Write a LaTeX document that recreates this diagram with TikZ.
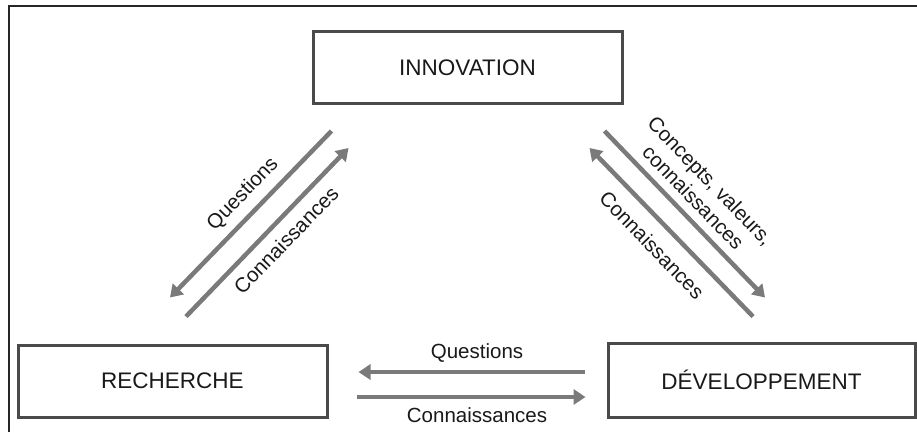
\documentclass[tikz,border=0pt]{standalone}
\usepackage{fontspec}
\setmainfont{Liberation Sans}
\usepackage{xcolor}
\usetikzlibrary{arrows.meta}
\definecolor{grisfleche}{HTML}{7A7A7A}
\definecolor{griscadre}{HTML}{4A4A4A}

\begin{document}
\begin{tikzpicture}[x=1pt, y=-1pt,
    boite/.style={draw=griscadre, line width=3pt, minimum width=309pt, minimum height=72pt, inner sep=0pt, text=black!90, font=\fontsize{22.5}{26}\selectfont},
    fleche/.style={draw=grisfleche, line width=4.5pt, -{Triangle[length=12pt, width=15pt]}},
    etiq/.style={inner sep=0pt, text=black!90, font=\fontsize{20.5}{24}\selectfont}]
    \useasboundingbox (0,0) rectangle (917,432);
    \draw[line width=2pt, black!85] (8.5,432) -- (8.5,6) -- (917,6);

    \node[boite] (inno) at (467.5, 67.5) {INNOVATION};
    \node[boite] (rech) at (172.5, 381) {RECHERCHE};
    \node[boite, minimum width=307pt, minimum height=74pt] (dev) at (761.5, 380) {DÉVELOPPEMENT};

    \draw[fleche] ([shift={(20,26)}]inno.south west) -- ([shift={(-2.5,-46)}]rech.north);
    \draw[fleche] ([shift={(13.5,-27)}]rech.north) -- ([shift={(37,43)}]inno.south west);
    \node[etiq, rotate=46] at (243, 194) {Questions};
    \node[etiq, rotate=46] at (286, 240) {Connaissances};

    \draw[fleche] ([shift={(-19,26)}]inno.south east) -- ([shift={(3.5,-44)}]dev.north);
    \draw[fleche] ([shift={(-8.5,-25)}]dev.north) -- ([shift={(-34,43)}]inno.south east);
    \node[etiq, rotate=-46, align=center] at (702, 189) {Concepts, valeurs,\\connaissances};
    \node[etiq, rotate=-46] at (652, 245) {Connaissances};

    \draw[fleche] ([shift={(-22,-8)}]dev.west) -- ([shift={(30,-9)}]rech.east);
    \draw[fleche] ([shift={(28,16)}]rech.east) -- ([shift={(-21,17)}]dev.west);
    \node[etiq] at (477, 353) {Questions};
    \node[etiq] at (477, 415) {Connaissances};
\end{tikzpicture}
\end{document}
